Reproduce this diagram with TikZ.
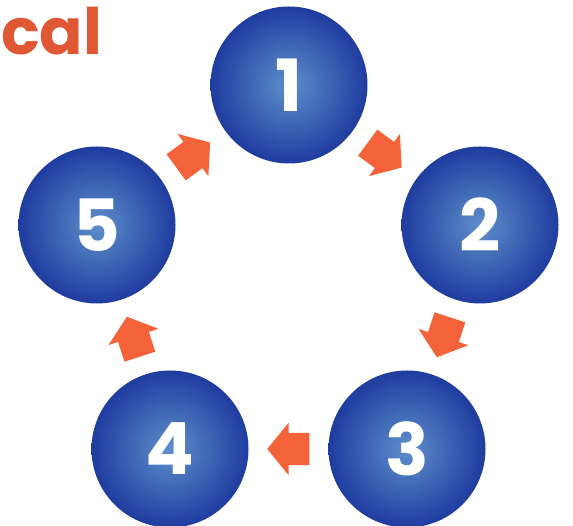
\documentclass[tikz,border=0pt]{standalone}
\usepackage{fontspec}
\setmainfont{Poppins}
\usetikzlibrary{shapes.arrows}

\definecolor{ballouter}{HTML}{1F3C9F}
\definecolor{ballinner}{HTML}{5E8FCB}
\definecolor{flow}{HTML}{F4623A}
\definecolor{titleorange}{HTML}{E05733}

\tikzset{
  ball/.style={circle, minimum size=157pt, inner sep=0pt, shading=radial,
    inner color=ballinner, outer color=ballouter, text=white,
    font=\fontsize{72}{72}\selectfont\bfseries},
  flowarrow/.style={single arrow, fill=flow, draw=none, inner xsep=0pt,
    inner ysep=16pt, minimum height=42pt, single arrow head extend=10pt,
    single arrow tip angle=102, single arrow head indent=0pt,
    sloped, allow upside down, pos=0.42},
}

\begin{document}
\begin{tikzpicture}[x=1pt,y=1pt]
\useasboundingbox (0,0) rectangle (573,526);

% Text Node
\node [anchor=base west, inner sep=0pt, text=titleorange,
  font=\fontsize{64}{64}\selectfont\bfseries] (title) at (1,471) {cal};

% Step Nodes
\node [ball] (s1) at (289,441) {1};
\node [ball] (s2) at (480,301) {2};
\node [ball] (s3) at (407,77) {3};
\node [ball] (s4) at (170,77) {4};
\node [ball] (s5) at (97,301) {5};

% Connections
\path (s1) -- node [flowarrow] (a12) {} (s2);
\path (s2) -- node [flowarrow] (a23) {} (s3);
\path (s3) -- node [flowarrow] (a34) {} (s4);
\path (s4) -- node [flowarrow] (a45) {} (s5);
\path (s5) -- node [flowarrow] (a51) {} (s1);

\end{tikzpicture}
\end{document}
